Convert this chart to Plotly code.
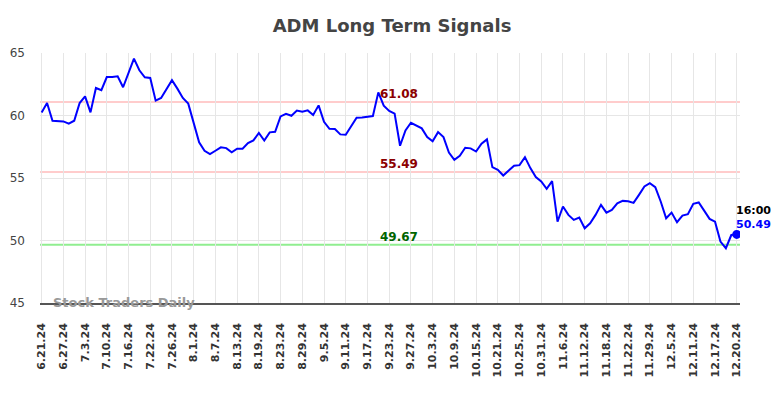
import plotly.graph_objects as go

# ---- data ----
tick_labels = ["6.21.24", "6.27.24", "7.3.24", "7.10.24", "7.16.24", "7.22.24", "7.26.24",
               "8.1.24", "8.7.24", "8.13.24", "8.19.24", "8.23.24", "8.29.24", "9.5.24",
               "9.11.24", "9.17.24", "9.23.24", "9.27.24", "10.3.24", "10.9.24", "10.15.24",
               "10.21.24", "10.25.24", "10.31.24", "11.6.24", "11.12.24", "11.18.24",
               "11.22.24", "11.29.24", "12.5.24", "12.11.24", "12.17.24", "12.20.24"]
tick_step = 4

prices = [
    60.25, 61.0, 59.58, 59.58, 59.53, 59.34, 59.58, 61.0, 61.53, 60.25,
    62.2, 62.02, 63.08, 63.08, 63.14, 62.26, 63.4, 64.55, 63.62, 63.06,
    63.0, 61.19, 61.4, 62.12, 62.82, 62.15, 61.4, 60.95, 59.5, 57.85,
    57.18, 56.91, 57.18, 57.45, 57.39, 57.05, 57.34, 57.34, 57.79, 58.01,
    58.6,
    58.0, 58.65, 58.7, 59.93, 60.14, 59.98, 60.39, 60.3, 60.41, 60.04,
    60.81, 59.5, 58.94, 58.92, 58.49, 58.46, 59.13, 59.82, 59.85, 59.88,
    59.96, 61.85, 60.79, 60.36, 60.15, 57.58, 58.81, 59.42, 59.18, 58.97,
    58.27, 57.93, 58.67, 58.27, 57.04, 56.46, 56.78, 57.42, 57.37, 57.12,
    57.74, 58.09, 55.87, 55.66,
    55.2, 55.58, 55.98, 56.03, 56.67, 55.79, 55.07, 54.72, 54.13, 54.75,
    51.51, 52.72, 52.05, 51.65, 51.83, 50.98, 51.38, 52.05, 52.85, 52.23,
    52.45, 52.98, 53.17, 53.14, 53.01, 53.65, 54.32, 54.59, 54.27, 53.12,
    51.78, 52.23, 51.46, 51.99, 52.1, 52.93, 53.04, 52.39, 51.73, 51.51,
    49.91, 49.38, 50.44, 50.49,
]

upper_signal = 61.08
mid_signal = 55.49
lower_signal = 49.67
last_time = "16:00"
last_price = 50.49

x_idx = list(range(len(prices)))
tick_vals = [i * tick_step for i in range(len(tick_labels))]

FONT = "DejaVu Sans"

fig = go.Figure()

fig.add_trace(go.Scatter(x=x_idx, y=prices, mode="lines",
                         line=dict(color="#0000ff", width=2), hoverinfo="skip"))
fig.add_trace(go.Scatter(x=[x_idx[-1]], y=[last_price], mode="markers",
                         marker=dict(color="#0000ff", size=9), hoverinfo="skip"))

for val, col in [(upper_signal, "#ffcccc"), (mid_signal, "#ffcccc"), (lower_signal, "#90ee90")]:
    fig.add_shape(type="line", xref="paper", x0=0, x1=1, yref="y", y0=val, y1=val,
                  line=dict(color=col, width=2), layer="below")

label_x = 65.8
for val, col in [(upper_signal, "#8b0000"), (mid_signal, "#8b0000"), (lower_signal, "#006400")]:
    fig.add_annotation(x=label_x, y=val, xref="x", yref="y", text=f"<b>{val:.2f}</b>",
                       showarrow=False, yanchor="bottom", xanchor="center",
                       font=dict(family=FONT, size=12, color=col), yshift=-1)

fig.add_annotation(x=x_idx[-1], y=last_price, xref="x", yref="y", text=f"<b>{last_time}</b>",
                   showarrow=False, xanchor="left", yanchor="middle", xshift=-3, yshift=24,
                   font=dict(family=FONT, size=11, color="#000000"))
fig.add_annotation(x=x_idx[-1], y=last_price, xref="x", yref="y", text=f"<b>{last_price:.2f}</b>",
                   showarrow=False, xanchor="left", yanchor="middle", xshift=-3, yshift=10,
                   font=dict(family=FONT, size=11, color="#0000ff"))

fig.add_annotation(x=0.0186, y=0.004, xref="paper", yref="paper", text="<b>Stock Traders Daily</b>",
                   showarrow=False, xanchor="left", yanchor="middle", xshift=-2,
                   font=dict(family=FONT, size=13, color="#999999"))

fig.update_layout(
    width=784, height=398,
    margin=dict(l=40, r=44, t=53, b=95, autoexpand=False),
    paper_bgcolor="white", plot_bgcolor="white",
    showlegend=False,
    title=dict(text="<b>ADM Long Term Signals</b>", x=0.5, xanchor="center",
               y=1 - 26 / 398, yanchor="middle", yref="container",
               font=dict(family=FONT, size=18, color="#444444")),
    font=dict(family=FONT),
)

fig.update_xaxes(range=[-0.3, 128.6], tickmode="array", tickvals=tick_vals,
                 ticktext=[f"<b>{t}</b>" for t in tick_labels], tickangle=-90,
                 tickfont=dict(family=FONT, size=11, color="#333333"),
                 showgrid=True, gridcolor="#e6e6e6", gridwidth=1,
                 showline=True, linecolor="#555555", linewidth=1.5,
                 zeroline=False, ticks="", ticklabelstandoff=14, automargin=False)
fig.update_yaxes(range=[45, 65], tickvals=[45, 50, 55, 60, 65],
                 tickfont=dict(family=FONT, size=12, color="#444444"),
                 showgrid=True, gridcolor="#e6e6e6", gridwidth=1,
                 zeroline=False, showline=False, ticks="", ticklabelstandoff=14, automargin=False)

fig.write_html("out.html", config={"displayModeBar": False},
               post_script="document.body.style.margin='0px';document.body.style.overflow='hidden';")
